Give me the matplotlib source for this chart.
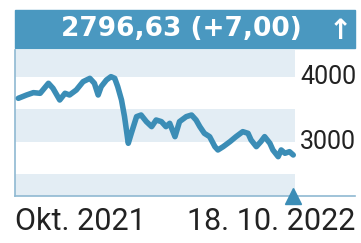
import numpy as np
import matplotlib.pyplot as plt
from matplotlib.patches import Rectangle

# index level (x = days since start)
days = [0, 11, 20, 29, 40, 46, 55, 62, 68, 77, 86, 95, 101, 106, 110, 117, 123, 128,
        132, 137, 141, 146, 150, 157, 163, 170, 177, 183, 190, 196, 201, 208, 214, 223,
        230, 236, 241, 247, 254, 261, 265, 272, 281, 289, 298, 305, 309, 316, 322, 327,
        334, 338, 345, 349, 354, 360, 365]
values = [3672, 3723, 3759, 3749, 3903, 3826, 3646, 3749, 3723, 3800, 3928, 3979, 3903,
          3723, 3851, 3954, 4005, 3979, 3851, 3646, 3390, 2980, 3133, 3390, 3415, 3313,
          3236, 3338, 3313, 3236, 3287, 3082, 3313, 3390, 3415, 3338, 3236, 3133, 3082,
          2928, 2877, 2928, 3005, 3082, 3159, 3133, 3031, 2928, 3005, 3082, 2980, 2877,
          2774, 2877, 2826, 2851, 2800]
yticks = [3000, 4000]
ytick_labels = ['3000', '4000']
header = '2796,63 (+7,00)'
x_labels = ['Okt. 2021', '18. 10. 2022']

BLUE = '#4a98c0'
LINE = '#3b8db6'
BAND = '#e3edf4'
FONT = ['Roboto', 'DejaVu Sans']

W, H = 361, 243
fig = plt.figure(figsize=(W / 100, H / 100), dpi=100)
fig.patch.set_facecolor('white')

def px(x0, y0, x1, y1):
    return [x0 / W, 1 - y1 / H, (x1 - x0) / W, (y1 - y0) / H]

ax = fig.add_axes(px(15, 50, 355, 196))
ax.set_facecolor('white')
ax.set_xlim(-4.4, 447)
ax.set_ylim(2169, 4415)

frac = (295 - 15) / 340
for lo, hi in [(4000, 4415), (3000, 3500), (2169, 2500)]:
    ax.axhspan(lo, hi, xmin=0, xmax=frac, color=BAND, lw=0, zorder=0)

ax.plot(days, values, color=LINE, lw=4.0, solid_joinstyle='round',
        solid_capstyle='round', zorder=3)
ax.plot([days[-1]], [2169], marker='^', ms=11, color=LINE, clip_on=False, zorder=4)

ax.set_xticks([])
ax.set_yticks([])
for v, lab in zip(yticks, ytick_labels):
    ax.text(frac + 0.015, v, lab, transform=ax.get_yaxis_transform(),
            family=FONT, fontsize=18, color='#222222', ha='left', va='center')

for s in ['top', 'right']:
    ax.spines[s].set_visible(False)
ax.spines['left'].set_color('#8fb9d2')
ax.spines['bottom'].set_color('#8fb9d2')
ax.spines['left'].set_linewidth(1.2)
ax.spines['bottom'].set_linewidth(1.2)

# header box
fig.patches.append(Rectangle((15 / W, 1 - 48 / H), 340 / W, 38 / H,
                             transform=fig.transFigure, color=BLUE, zorder=0))
fig.text(181 / W, 1 - 29 / H, header, family='DejaVu Sans', fontsize=19,
         fontweight='bold', color='white', ha='center', va='center')
fig.text(340 / W, 1 - 31 / H, '↑', family='DejaVu Sans', fontsize=20, color='white',
         ha='center', va='center', fontweight='bold')

fig.text(15 / W, 1 - 222 / H, x_labels[0], family=FONT, fontsize=22, color='#222222',
         ha='left', va='center')
fig.text(355 / W, 1 - 222 / H, x_labels[1], family=FONT, fontsize=22, color='#222222',
         ha='right', va='center')

fig.savefig('out.png', dpi=100)
